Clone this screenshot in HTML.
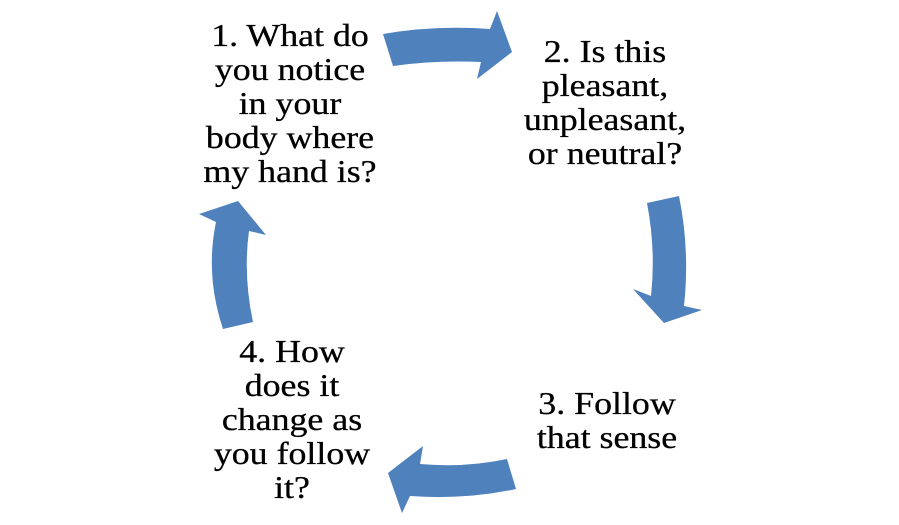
<!DOCTYPE html>
<html><head><style>
html,body{margin:0;padding:0;background:#fff;}
body{width:899px;height:525px;position:relative;overflow:hidden;font-family:"Liberation Serif",serif;}
.t{position:absolute;text-align:center;font-size:32px;line-height:34px;color:#000;width:260px;transform:scaleX(1.12);transform-origin:center;-webkit-text-stroke:0.3px #000;}
svg{position:absolute;left:0;top:0;}
</style></head><body>
<svg width="899" height="525">
<g fill="#4f81bd">
<path d="M383,34 Q435,25 490,29 L497,11 L512,52 L477,79 L481,62 Q435,60 393,66 Z"/>
<path d="M647,203 L679,196 Q690,250 684,306 L702,310 L664,323 L633,289 L651,296 Q656,250 647,203 Z"/>
<path d="M507,459 L516,489 Q465,500 410,496 L402,513 L388,473 L423,446 L420,464 Q465,468 507,459 Z"/>
<path d="M223,329 L253,322 Q243,275 249,231 L266,235 L238,201 L199,214 L216,222 Q205,275 223,329 Z"/>
</g>
</svg>
<div class="t" style="left:160px;top:18px;">1. What do<br>you notice<br>in your<br>body where<br>my hand is?</div>
<div class="t" style="left:475px;top:34px;">2. Is this<br>pleasant,<br>unpleasant,<br>or neutral?</div>
<div class="t" style="left:477px;top:386px;">3. Follow<br>that sense</div>
<div class="t" style="left:162px;top:334px;">4. How<br>does it<br>change as<br>you follow<br>it?</div>
</body></html>
